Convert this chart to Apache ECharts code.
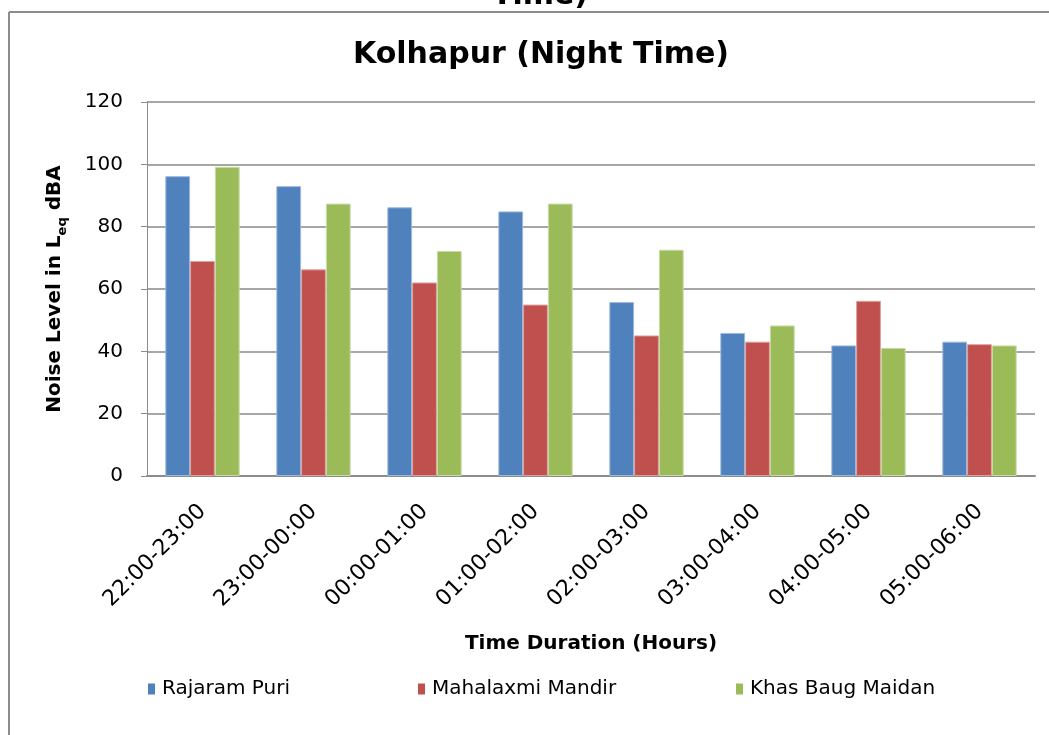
<!DOCTYPE html>
<html>
<head>
<meta charset="utf-8">
<script src="https://cdn.jsdelivr.net/npm/echarts@6/dist/echarts.min.js"></script>
<style>
html,body{margin:0;padding:0;background:#fff;}
#c{width:1049px;height:735px;}
</style>
</head>
<body>
<div id="c"></div>
<script>
const categories = ['22:00-23:00','23:00-00:00','00:00-01:00','01:00-02:00','02:00-03:00','03:00-04:00','04:00-05:00','05:00-06:00'];
const rajaramPuri = [96.2, 93.0, 86.2, 84.9, 55.8, 45.9, 41.9, 43.1];
const mahalaxmiMandir = [69.0, 66.3, 62.1, 55.0, 45.1, 43.1, 56.2, 42.3];
const khasBaugMaidan = [99.2, 87.4, 72.2, 87.4, 72.6, 48.3, 41.1, 41.9];
const seriesNames = ['Rajaram Puri','Mahalaxmi Mandir','Khas Baug Maidan'];
const yTicks = [0, 20, 40, 60, 80, 100, 120];

const font = 'DejaVu Sans, Verdana, sans-serif';
const colors = ['#4F81BD', '#C0504D', '#9BBB59'];
const borders = ['#9DB8DC', '#DDA09E', '#C8DBA6'];

const chart = echarts.init(document.getElementById('c'), null, {renderer: 'canvas'});
const data = [rajaramPuri, mahalaxmiMandir, khasBaugMaidan];

chart.setOption({
  animation: false,
  backgroundColor: '#fff',
  title: [
    {text: 'Time)', left: 535, top: -24, textAlign: 'center',
     textStyle: {fontFamily: font, fontWeight: 'bold', fontSize: 30, color: '#000'}},
    {text: 'Kolhapur (Night Time)', left: 536, top: 35, textAlign: 'center',
     textStyle: {fontFamily: font, fontWeight: 'bold', fontSize: 30, color: '#000'}}
  ],
  graphic: [
    {type: 'line', shape: {x1: 9, y1: 12, x2: 9, y2: 735}, style: {stroke: '#8c8c8c', lineWidth: 2}},
    {type: 'line', shape: {x1: 9, y1: 12, x2: 1049, y2: 12}, style: {stroke: '#8c8c8c', lineWidth: 2}}
  ],
  legend: seriesNames.map((n, i) => ({
    data: [{name: n, itemStyle: {borderWidth: 0}}],
    left: [143, 413, 731][i],
    top: 674,
    itemWidth: 7,
    itemHeight: 11,
    itemGap: 0,
    icon: 'rect',
    textStyle: {fontFamily: font, fontSize: 20, color: '#000', padding: [0, 0, 0, 2]}
  })),
  grid: {left: 147, right: 14, top: 102, bottom: 259, containLabel: false},
  xAxis: {
    type: 'category',
    data: categories,
    name: 'Time Duration (Hours)',
    nameLocation: 'middle',
    nameGap: 158,
    nameTextStyle: {fontFamily: font, fontWeight: 'bold', fontSize: 20, color: '#000'},
    axisLine: {lineStyle: {color: '#8c8c8c', width: 2}},
    axisTick: {show: false},
    axisLabel: {rotate: 45, fontFamily: font, fontSize: 22, color: '#000', margin: 32, interval: 0}
  },
  yAxis: {
    type: 'value',
    min: 0, max: 120, interval: 20,
    name: '{a|Noise Level in L}{s|eq}{a| dBA}',
    nameLocation: 'middle',
    nameGap: 78,
    nameRotate: 90,
    nameTextStyle: {
      rich: {
        a: {fontFamily: font, fontWeight: 'bold', fontSize: 20, color: '#000', lineHeight: 28},
        s: {fontFamily: font, fontWeight: 'bold', fontSize: 13, color: '#000', verticalAlign: 'bottom', lineHeight: 28, padding: [11, 0, 0, 0]}
      }
    },
    axisLine: {show: true, lineStyle: {color: '#8c8c8c', width: 1}},
    axisTick: {show: true, inside: false, length: 6, lineStyle: {color: '#8c8c8c'}},
    axisLabel: {fontFamily: font, fontSize: 20, color: '#000', margin: 24,
      formatter: v => yTicks.includes(v) ? String(v) : ''},
    splitLine: {show: true, lineStyle: {color: '#a6a6a6', width: 2}}
  },
  series: seriesNames.map((n, i) => ({
    name: n,
    type: 'bar',
    data: data[i],
    barGap: '0%',
    barCategoryGap: '33%',
    itemStyle: {color: colors[i], borderColor: borders[i], borderWidth: 1}
  }))
});
</script>
</body>
</html>
